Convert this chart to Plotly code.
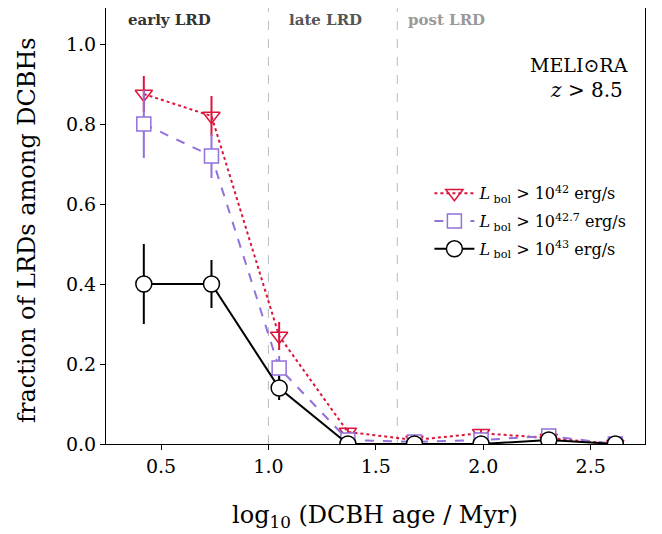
import plotly.graph_objects as go

# ---- data ----
log_age = [0.42, 0.735, 1.05, 1.37, 1.68, 1.99, 2.305, 2.615]

frac_42 = [0.875, 0.82, 0.27, 0.03, 0.01, 0.027, 0.015, 0.0]
err_42 = [0.045, 0.05, 0.035, 0.01, 0.005, 0.01, 0.005, 0.0]

frac_427 = [0.80, 0.72, 0.19, 0.01, 0.005, 0.01, 0.02, 0.0]
err_427 = [0.085, 0.055, 0.03, 0.008, 0.004, 0.006, 0.006, 0.0]

frac_43 = [0.40, 0.40, 0.14, 0.0, 0.0, 0.0, 0.01, 0.0]
err_43 = [0.10, 0.06, 0.03, 0.0, 0.0, 0.0, 0.004, 0.0]

labels = ["<i>L</i><sub> bol</sub> > 10<sup>42</sup> erg/s",
          "<i>L</i><sub> bol</sub> > 10<sup>42.7</sup> erg/s",
          "<i>L</i><sub> bol</sub> > 10<sup>43</sup> erg/s"]

phase_bounds = [1.0, 1.6]
phase_names = ["early LRD", "late LRD", "post LRD"]
phase_x = [0.54, 1.265, 1.83]
phase_colors = ["#333333", "#555555", "#999999"]

FONT = "DejaVu Serif"

fig = go.Figure()

red = "#DC143C"
purple = "#9370DB"

fig.add_trace(go.Scatter(
    x=log_age, y=frac_42, name=labels[0], mode="lines+markers", legendgroup="a",
    line=dict(color=red, width=2, dash="dot"),
    marker=dict(symbol="triangle-down", size=15, color="rgba(255,255,255,0)",
                line=dict(color=red, width=1.5)),
    error_y=dict(type="data", array=err_42, color=red, thickness=2, width=0)))

fig.add_trace(go.Scatter(
    x=log_age, y=frac_427, name=labels[1], mode="lines+markers", legendgroup="b",
    line=dict(color=purple, width=2, dash="dash"),
    marker=dict(symbol="square", size=14, color="white",
                line=dict(color=purple, width=1.5)),
    error_y=dict(type="data", array=err_427, color=purple, thickness=2, width=0)))

fig.add_trace(go.Scatter(
    x=log_age, y=frac_43, name=labels[2], mode="lines+markers", legendgroup="c",
    line=dict(color="black", width=2),
    marker=dict(symbol="circle", size=16, color="white",
                line=dict(color="black", width=1.5)),
    error_y=dict(type="data", array=err_43, color="black", thickness=2, width=0)))

for xb in phase_bounds:
    fig.add_shape(type="line", xref="x", yref="paper", x0=xb, x1=xb, y0=0, y1=1,
                  line=dict(color="#BBBBBB", width=1, dash="dash"), layer="below")

for name, xp, c in zip(phase_names, phase_x, phase_colors):
    fig.add_annotation(x=xp, y=1.06, xref="x", yref="y", text=f"<b>{name}</b>",
                       showarrow=False, font=dict(family=FONT, size=15, color=c),
                       xanchor="center", yanchor="middle")

fig.add_annotation(x=1.0, y=0.948, xref="paper", yref="y", text="MELI⊙RA",
                   showarrow=False, xanchor="right", yanchor="middle",
                   font=dict(family=FONT, size=19, color="black"), xshift=-15)
fig.add_annotation(x=1.0, y=0.885, xref="paper", yref="y", text="<i>z</i> > 8.5",
                   showarrow=False, xanchor="right", yanchor="middle",
                   font=dict(family=FONT, size=20, color="black"), xshift=-20)

# axis titles as annotations (exact placement)
fig.add_annotation(x=-0.1466, y=0.491, xref="paper", yref="paper",
                   text="fraction of LRDs among DCBHs", textangle=-90, showarrow=False,
                   xanchor="center", yanchor="middle", font=dict(family=FONT, size=24))
fig.add_annotation(x=0.499, y=-0.167, xref="paper", yref="paper",
                   text="log<sub>10</sub> (DCBH age / Myr)", showarrow=False,
                   xanchor="center", yanchor="middle", font=dict(family=FONT, size=24))

# page body has an 8px default margin: compensate in the figure geometry
fig.update_layout(
    width=654, height=526,
    margin=dict(l=98, r=17, t=0, b=90, autoexpand=False),
    plot_bgcolor="white", paper_bgcolor="white",
    font=dict(family=FONT, size=19, color="black"),
    showlegend=True,
    legend=dict(x=0.6, y=0.614, xanchor="left", yanchor="top",
                bgcolor="rgba(0,0,0,0)", font=dict(family=FONT, size=16),
                itemwidth=40, tracegroupgap=4),
)

fig.update_xaxes(range=[0.244, 2.753], tickvals=[0.5, 1.0, 1.5, 2.0, 2.5],
                 ticktext=["0.5", "1.0", "1.5", "2.0", "2.5"], automargin=False,
                 showline=True, linecolor="black", linewidth=1.2, mirror=True,
                 ticks="outside", ticklen=5, tickcolor="black", showgrid=False, zeroline=False,
                 tickfont=dict(family=FONT, size=19))
fig.update_yaxes(range=[0, 1.09], tickvals=[0, 0.2, 0.4, 0.6, 0.8, 1.0],
                 ticktext=["0.0", "0.2", "0.4", "0.6", "0.8", "1.0"], automargin=False,
                 showline=True, linecolor="black", linewidth=1.2, mirror=True,
                 ticks="outside", ticklen=5, tickcolor="black", showgrid=False, zeroline=False,
                 tickfont=dict(family=FONT, size=19))

fig.write_html("out.html")
